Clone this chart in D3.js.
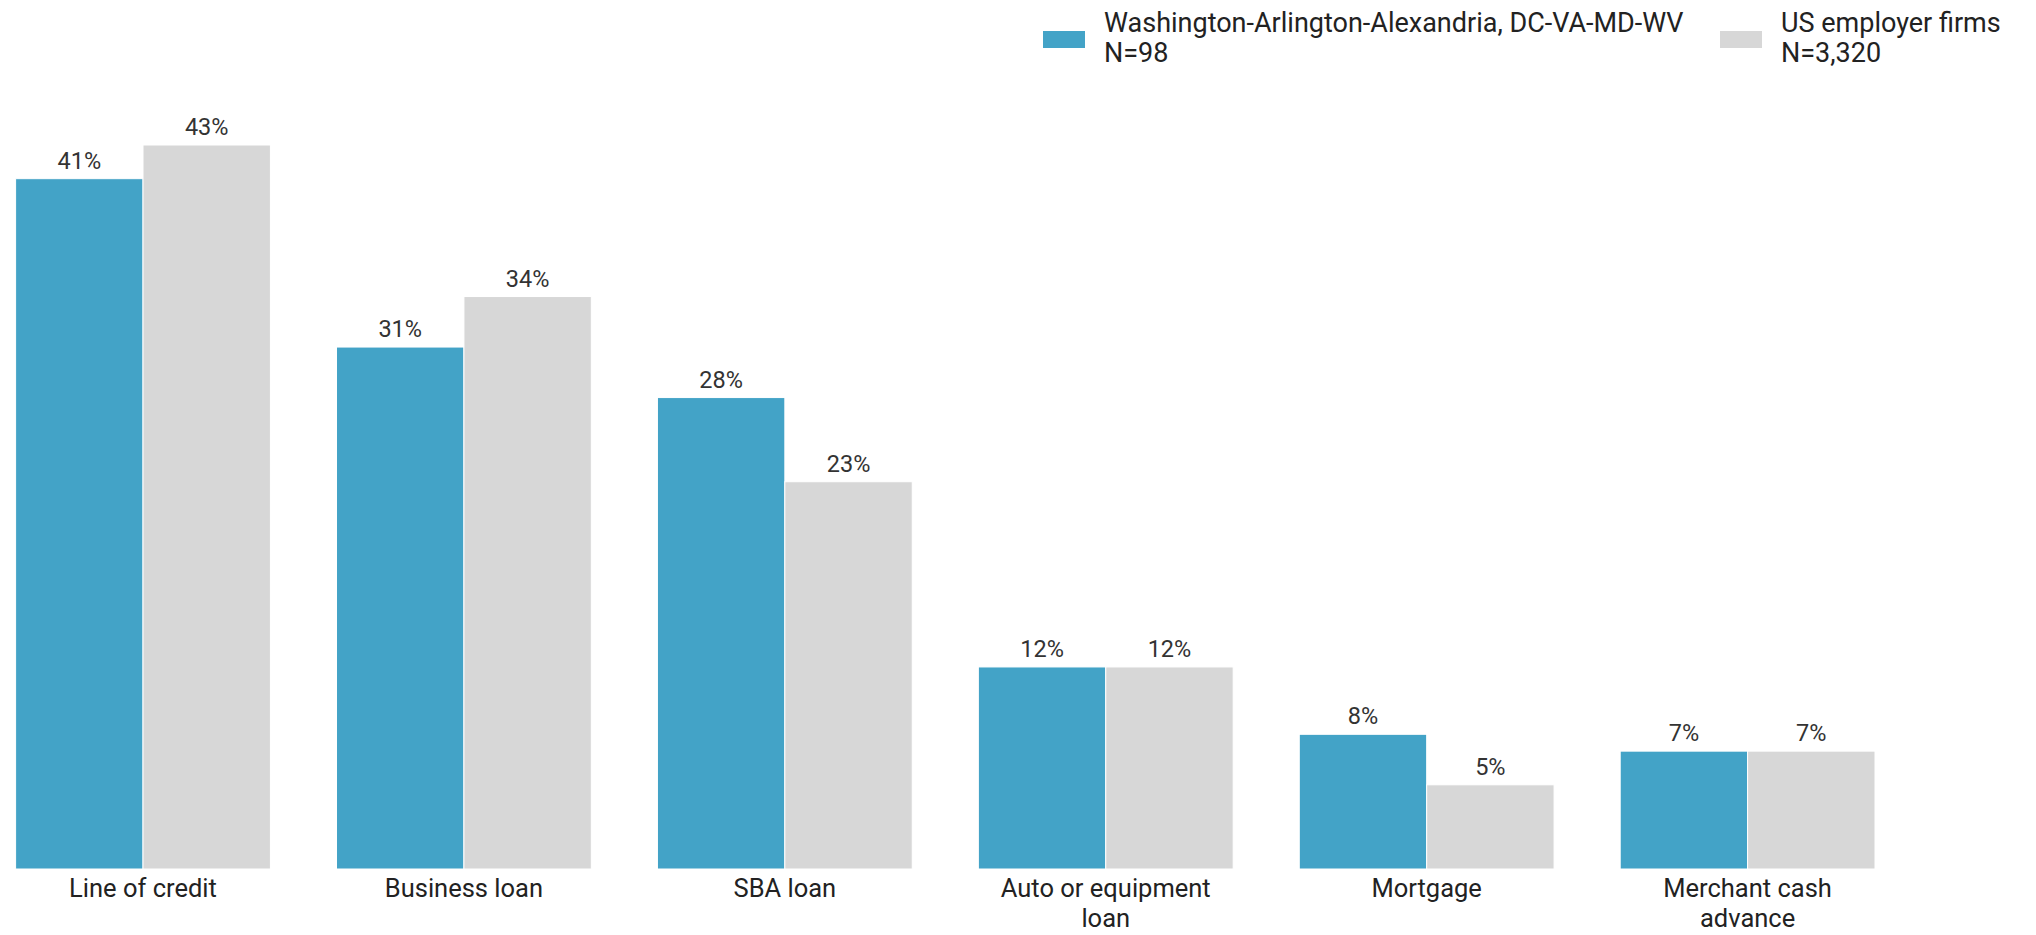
<!DOCTYPE html>
<html><head><meta charset="utf-8">
<script src="https://cdn.jsdelivr.net/npm/d3@7"></script>
<style>body{margin:0;background:#fff;}svg{display:block;font-family:Roboto,"Noto Sans",sans-serif;}</style>
</head><body>
<script>
const categories = ["Line of credit","Business loan","SBA loan","Auto or equipment loan","Mortgage","Merchant cash advance"];
const tickLabels = [["Line of credit"],["Business loan"],["SBA loan"],["Auto or equipment","loan"],["Mortgage"],["Merchant cash","advance"]];
const seriesNames = ["Washington-Arlington-Alexandria, DC-VA-MD-WV","US employer firms"];
const seriesN = ["N=98","N=3,320"];
const dcValues = [41,31,28,12,8,7];
const usValues = [43,34,23,12,5,7];
const colors = ["#43a3c7","#d7d7d7"];

const W=2036,H=935;
const svg=d3.select("body").append("svg").attr("width",W).attr("height",H);
const x0=d3.scaleBand().domain(categories).range([15.6,1875]).paddingInner(0.206).paddingOuter(0);
const x1=d3.scaleBand().domain([0,1]).range([0,x0.bandwidth()]).padding(0);
const y=d3.scaleLinear().domain([0,43]).range([869,145]);

const data=categories.map((c,i)=>({c,vals:[dcValues[i],usValues[i]]}));
const g=svg.selectAll("g.grp").data(data).join("g").attr("class","grp")
  .attr("transform",d=>`translate(${x0(d.c)},0)`);
g.selectAll("rect").data(d=>d.vals.map((v,k)=>({v,k}))).join("rect")
  .attr("x",d=>x1(d.k)).attr("width",x1.bandwidth())
  .attr("y",d=>y(d.v)).attr("height",d=>y(0)-y(d.v))
  .attr("fill",d=>colors[d.k]).attr("stroke","#fff").attr("stroke-width",1);
g.selectAll("text.val").data(d=>d.vals.map((v,k)=>({v,k}))).join("text").attr("class","val")
  .attr("x",d=>x1(d.k)+x1.bandwidth()/2).attr("y",d=>y(d.v)-10)
  .attr("text-anchor","middle").attr("font-size",23.5).attr("fill","#333")
  .text(d=>d.v+"%");

// x axis labels (each line its own text)
const xa=svg.append("g");
categories.forEach((c,i)=>{
  tickLabels[i].forEach((l,j)=>xa.append("text").attr("x",x0(c)+x0.bandwidth()/2).attr("y",897+j*29.5)
    .attr("text-anchor","middle").attr("font-size",25.5).attr("fill","#222").text(l));
});

// legend
const legX=[1043,1720];
seriesNames.forEach((s,k)=>{
  const lg=svg.append("g");
  lg.append("rect").attr("x",legX[k]).attr("y",31).attr("width",42).attr("height",17).attr("fill",colors[k]);
  lg.append("text").attr("x",legX[k]+61).attr("y",31.5).attr("font-size",27).attr("fill","#222").text(s);
  lg.append("text").attr("x",legX[k]+61).attr("y",62).attr("font-size",27).attr("fill","#222").text(seriesN[k]);
});
</script>
</body></html>
